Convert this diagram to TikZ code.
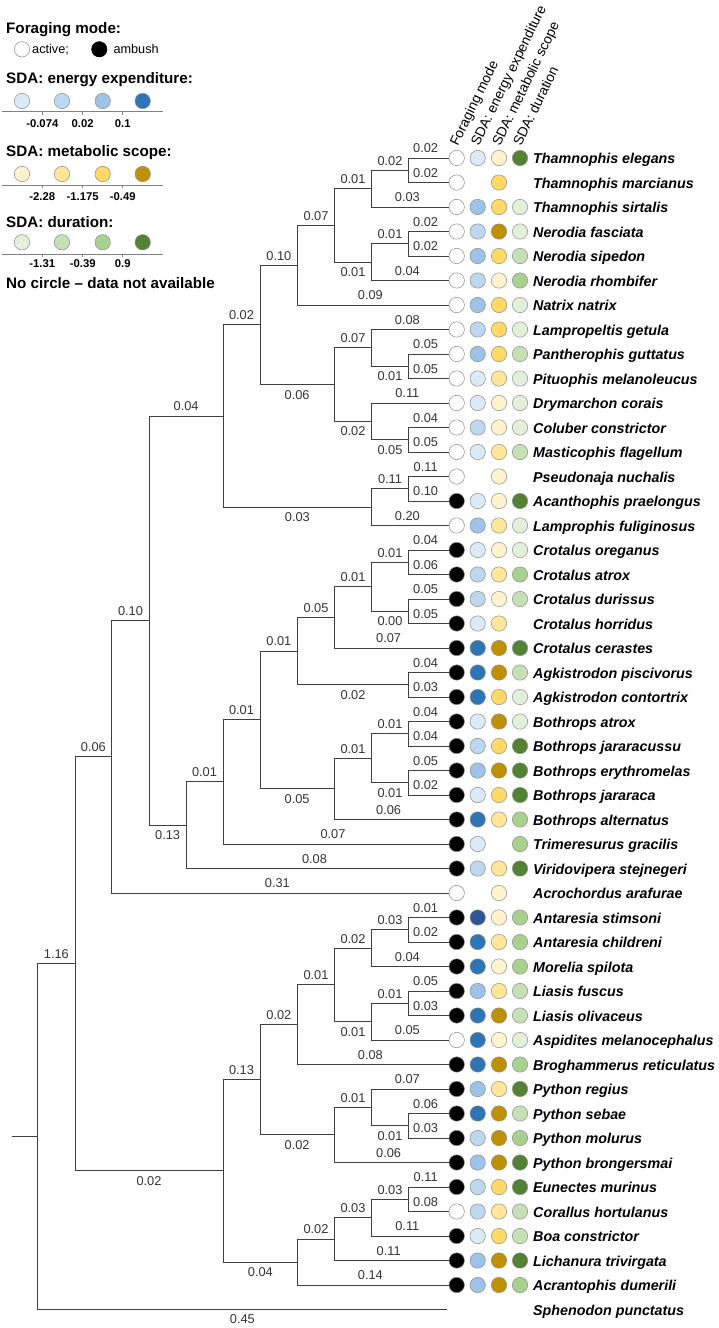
\documentclass[tikz,border=0pt]{standalone}
\usepackage{fontspec}
\setmainfont{Liberation Sans}
\definecolor{ce1}{HTML}{DCE9F6}
\definecolor{ce2}{HTML}{BDD7EE}
\definecolor{ce3}{HTML}{9DC3E6}
\definecolor{ce4}{HTML}{2E75B6}
\definecolor{ce5}{HTML}{2F5597}
\definecolor{cm1}{HTML}{FFF2CC}
\definecolor{cm2}{HTML}{FFE699}
\definecolor{cm3}{HTML}{FFD966}
\definecolor{cm4}{HTML}{BF9000}
\definecolor{cd1}{HTML}{E2F0D9}
\definecolor{cd2}{HTML}{C5E0B4}
\definecolor{cd3}{HTML}{A9D18E}
\definecolor{cd4}{HTML}{548235}
\newcommand\blab{\fontsize{12.8}{13}\selectfont}
\newcommand\taxon[6]{%
  \pgfmathsetmacro\ry{158+(#1-1)*24.5}%
  \coordinate (t#1) at (449,\ry);
  \node[taxname] (name#1) at (533,\ry+5.6) {#2};
  \if\relax\detokenize{#3}\relax\else\node[dot,fill=#3] (fm#1) at (456.7,\ry) {};\fi
  \if\relax\detokenize{#4}\relax\else\node[dot,fill=#4] (ee#1) at (477.7,\ry) {};\fi
  \if\relax\detokenize{#5}\relax\else\node[dot,fill=#5] (ms#1) at (499,\ry) {};\fi
  \if\relax\detokenize{#6}\relax\else\node[dot,fill=#6] (du#1) at (520,\ry) {};\fi
}
\begin{document}
\begin{tikzpicture}[x=1pt,y=-1pt,
  tree/.style={draw=black!75, line width=1pt, line join=miter},
  lu/.style={font=\blab, text=black!80, inner sep=0pt, yshift=9.5pt},
  ld/.style={font=\blab, text=black!80, inner sep=0pt, yshift=-10pt},
  tu/.style={lu, xshift=-3pt},
  dot/.style={circle, minimum size=15.4pt, inner sep=0pt, draw=black!45, line width=0.5pt},
  taxname/.style={anchor=base west, inner sep=0pt, font=\fontsize{14.3}{16}\selectfont\bfseries\itshape},
  title/.style={anchor=base west, inner sep=0pt, font=\fontsize{15.2}{17}\selectfont\bfseries},
  ltxt/.style={anchor=base west, inner sep=0pt, font=\fontsize{12.7}{14}\selectfont},
  ticklab/.style={inner sep=0pt, font=\fontsize{11.3}{13}\selectfont\bfseries},
  axis/.style={draw=black!50, line width=0.7pt},
  header/.style={rotate=64, anchor=base west, inner sep=0pt, font=\fontsize{13.8}{15}\selectfont}]
\useasboundingbox (0,0) rectangle (719,1328);

% ---------- legend ----------
\node[title] (lt1) at (6,33.3) {Foraging mode:};
\node[dot,fill=white] (lfa) at (22,49.3) {};
\node[ltxt] (lfat) at (32,53.6) {active;};
\node[dot,fill=black,draw=black] (lfb) at (99.3,49.3) {};
\node[ltxt] (lfbt) at (113.3,53.6) {ambush};

\node[title] (lt2) at (6,83.3) {SDA: energy expenditure:};
\node[dot,fill=ce1] (le1) at (22,101) {};
\node[dot,fill=ce2] (le2) at (62,101) {};
\node[dot,fill=ce3] (le3) at (102.7,101) {};
\node[dot,fill=ce4] (le4) at (142.7,101) {};
\draw[axis] (1.7,111.7) -- (163.3,111.7);
\foreach \xx in {42.3,82.7,122.7} \draw[axis] (\xx,111.7) -- (\xx,114.7);
\node[ticklab] (lel1) at (42.3,123.3) {-0.074};
\node[ticklab] (lel2) at (82.7,123.3) {0.02};
\node[ticklab] (lel3) at (122.7,123.3) {0.1};

\node[title] (lt3) at (6,156.7) {SDA: metabolic scope:};
\node[dot,fill=cm1] (lm1) at (22,174) {};
\node[dot,fill=cm2] (lm2) at (62,174) {};
\node[dot,fill=cm3] (lm3) at (102.7,174) {};
\node[dot,fill=cm4] (lm4) at (142.7,174) {};
\draw[axis] (1.7,185) -- (163.3,185);
\foreach \xx in {42.3,82.7,122.7} \draw[axis] (\xx,185) -- (\xx,188);
\node[ticklab] (lml1) at (42.3,196.7) {-2.28};
\node[ticklab] (lml2) at (82.7,196.7) {-1.175};
\node[ticklab] (lml3) at (122.7,196.7) {-0.49};

\node[title] (lt4) at (6,227) {SDA: duration:};
\node[dot,fill=cd1] (ld1) at (22,242.3) {};
\node[dot,fill=cd2] (ld2) at (62,242.3) {};
\node[dot,fill=cd3] (ld3) at (102.7,242.3) {};
\node[dot,fill=cd4] (ld4) at (142.7,242.3) {};
\draw[axis] (1.7,254) -- (163.3,254);
\foreach \xx in {42.3,82.7,122.7} \draw[axis] (\xx,254) -- (\xx,257);
\node[ticklab] (ldl1) at (42.3,264) {-1.31};
\node[ticklab] (ldl2) at (82.7,264) {-0.39};
\node[ticklab] (ldl3) at (122.7,264) {0.9};

\node[title] (lt5) at (6,288) {No circle \textendash\ data not available};

% ---------- column headers ----------
\node[header] (h1) at (457.7,147) {Foraging mode};
\node[header] (h2) at (478.7,147) {SDA: energy expenditure};
\node[header] (h3) at (500,147) {SDA: metabolic scope};
\node[header] (h4) at (521,147) {SDA: duration};

% ---------- taxa ----------
\taxon{1}{Thamnophis elegans}{white}{ce1}{cm1}{cd4}
\taxon{2}{Thamnophis marcianus}{white}{}{cm3}{}
\taxon{3}{Thamnophis sirtalis}{white}{ce3}{cm3}{cd1}
\taxon{4}{Nerodia fasciata}{white}{ce2}{cm4}{cd1}
\taxon{5}{Nerodia sipedon}{white}{ce3}{cm3}{cd2}
\taxon{6}{Nerodia rhombifer}{white}{ce2}{cm1}{cd3}
\taxon{7}{Natrix natrix}{white}{ce3}{cm3}{cd1}
\taxon{8}{Lampropeltis getula}{white}{ce2}{cm3}{cd1}
\taxon{9}{Pantherophis guttatus}{white}{ce3}{cm3}{cd2}
\taxon{10}{Pituophis melanoleucus}{white}{ce1}{cm2}{cd1}
\taxon{11}{Drymarchon corais}{white}{ce1}{cm1}{cd1}
\taxon{12}{Coluber constrictor}{white}{ce2}{cm1}{cd1}
\taxon{13}{Masticophis flagellum}{white}{ce1}{cm2}{cd2}
\taxon{14}{Pseudonaja nuchalis}{white}{}{cm1}{}
\taxon{15}{Acanthophis praelongus}{black}{ce1}{cm1}{cd4}
\taxon{16}{Lamprophis fuliginosus}{white}{ce3}{cm2}{cd1}
\taxon{17}{Crotalus oreganus}{black}{ce1}{cm1}{cd1}
\taxon{18}{Crotalus atrox}{black}{ce2}{cm2}{cd3}
\taxon{19}{Crotalus durissus}{black}{ce2}{cm1}{cd2}
\taxon{20}{Crotalus horridus}{black}{ce1}{cm2}{}
\taxon{21}{Crotalus cerastes}{black}{ce4}{cm4}{cd4}
\taxon{22}{Agkistrodon piscivorus}{black}{ce4}{cm4}{cd2}
\taxon{23}{Agkistrodon contortrix}{black}{ce4}{cm3}{cd1}
\taxon{24}{Bothrops atrox}{black}{ce1}{cm4}{cd1}
\taxon{25}{Bothrops jararacussu}{black}{ce2}{cm3}{cd4}
\taxon{26}{Bothrops erythromelas}{black}{ce3}{cm4}{cd4}
\taxon{27}{Bothrops jararaca}{black}{ce1}{cm3}{cd4}
\taxon{28}{Bothrops alternatus}{black}{ce4}{cm2}{cd3}
\taxon{29}{Trimeresurus gracilis}{black}{ce1}{}{cd3}
\taxon{30}{Viridovipera stejnegeri}{black}{ce2}{cm2}{cd4}
\taxon{31}{Acrochordus arafurae}{white}{}{cm1}{}
\taxon{32}{Antaresia stimsoni}{black}{ce5}{cm1}{cd3}
\taxon{33}{Antaresia childreni}{black}{ce4}{cm2}{cd3}
\taxon{34}{Morelia spilota}{black}{ce4}{cm1}{cd3}
\taxon{35}{Liasis fuscus}{black}{ce3}{cm2}{cd2}
\taxon{36}{Liasis olivaceus}{black}{ce4}{cm4}{cd2}
\taxon{37}{Aspidites melanocephalus}{white}{ce4}{cm1}{cd1}
\taxon{38}{Broghammerus reticulatus}{black}{ce4}{cm4}{cd3}
\taxon{39}{Python regius}{black}{ce3}{cm2}{cd4}
\taxon{40}{Python sebae}{black}{ce4}{cm4}{cd2}
\taxon{41}{Python molurus}{black}{ce2}{cm4}{cd3}
\taxon{42}{Python brongersmai}{black}{ce3}{cm4}{cd4}
\taxon{43}{Eunectes murinus}{black}{ce2}{cm3}{cd4}
\taxon{44}{Corallus hortulanus}{white}{ce2}{cm2}{cd2}
\taxon{45}{Boa constrictor}{black}{ce1}{cm3}{cd2}
\taxon{46}{Lichanura trivirgata}{black}{ce3}{cm4}{cd4}
\taxon{47}{Acrantophis dumerili}{black}{ce3}{cm4}{cd3}
\taxon{48}{Sphenodon punctatus}{}{}{}{}
\coordinate (t48) at (447,1309.5);

% ---------- internal nodes ----------
\coordinate (nA) at (408.3,170.25);
\coordinate (nB) at (371.7,188.63);
\coordinate (nC) at (408.3,243.75);
\coordinate (nD) at (371.7,262.13);
\coordinate (nE) at (334.3,225.38);
\coordinate (nF) at (297.7,265.19);
\coordinate (nG) at (408.3,366.25);
\coordinate (nH) at (371.7,347.88);
\coordinate (nI) at (408.3,439.75);
\coordinate (nJ) at (371.7,421.38);
\coordinate (nK) at (334.3,384.63);
\coordinate (nL) at (260,324.91);
\coordinate (nM) at (408.3,488.75);
\coordinate (nN) at (371.7,507.13);
\coordinate (nO) at (223,416.02);
\coordinate (nP) at (408.3,562.25);
\coordinate (nQ) at (408.3,611.25);
\coordinate (nR) at (371.7,586.75);
\coordinate (nS) at (334.3,617.38);
\coordinate (nT) at (408.3,684.75);
\coordinate (nU) at (297.7,651.06);
\coordinate (nV) at (408.3,733.75);
\coordinate (nW) at (408.3,782.75);
\coordinate (nX) at (371.7,758.25);
\coordinate (nY) at (334.3,788.88);
\coordinate (nZ) at (260,719.97);
\coordinate (nAA) at (223,781.98);
\coordinate (nAB) at (186,825.24);
\coordinate (nAC) at (149.3,620.63);
\coordinate (nAD) at (111.7,756.82);
\coordinate (nAE) at (408.3,929.75);
\coordinate (nAF) at (371.7,948.13);
\coordinate (nAG) at (408.3,1003.25);
\coordinate (nAH) at (371.7,1021.63);
\coordinate (nAI) at (334.3,984.88);
\coordinate (nAJ) at (297.7,1024.69);
\coordinate (nAK) at (408.3,1125.75);
\coordinate (nAL) at (371.7,1107.38);
\coordinate (nAM) at (334.3,1134.94);
\coordinate (nAN) at (260,1079.81);
\coordinate (nAO) at (408.3,1199.25);
\coordinate (nAP) at (371.7,1217.63);
\coordinate (nAQ) at (334.3,1239.06);
\coordinate (nAR) at (297.7,1262.03);
\coordinate (nAS) at (223,1170.92);
\coordinate (nAT) at (75,963.87);
\coordinate (nRoot) at (37.7,1136.69);
\coordinate (stub) at (12.3,1136.69);

% ---------- branches ----------
\draw[tree] (t1) -- node[tu]{0.02} (nA|-t1) -- (nA|-t2) -- node[tu]{0.02} (t2);
\draw[tree] (nA) -- node[lu]{0.02} (nB|-nA) -- (nB|-t3) -- node[tu]{0.03} (t3);
\draw[tree] (t4) -- node[tu]{0.02} (nC|-t4) -- (nC|-t5) -- node[tu]{0.02} (t5);
\draw[tree] (nC) -- node[lu]{0.01} (nD|-nC) -- (nD|-t6) -- node[tu]{0.04} (t6);
\draw[tree] (nB) -- node[lu]{0.01} (nE|-nB) -- (nE|-nD) -- node[ld]{0.01} (nD);
\draw[tree] (nE) -- node[lu]{0.07} (nF|-nE) -- (nF|-t7) -- node[tu]{0.09} (t7);
\draw[tree] (t9) -- node[tu]{0.05} (nG|-t9) -- (nG|-t10) -- node[tu]{0.05} (t10);
\draw[tree] (t8) -- node[tu]{0.08} (nH|-t8) -- (nH|-nG) -- node[ld]{0.01} (nG);
\draw[tree] (t12) -- node[tu]{0.04} (nI|-t12) -- (nI|-t13) -- node[tu]{0.05} (t13);
\draw[tree] (t11) -- node[tu]{0.11} (nJ|-t11) -- (nJ|-nI) -- node[ld]{0.05} (nI);
\draw[tree] (nH) -- node[lu]{0.07} (nK|-nH) -- (nK|-nJ) -- node[ld]{0.02} (nJ);
\draw[tree] (nF) -- node[lu]{0.10} (nL|-nF) -- (nL|-nK) -- node[ld]{0.06} (nK);
\draw[tree] (t14) -- node[tu]{0.11} (nM|-t14) -- (nM|-t15) -- node[tu]{0.10} (t15);
\draw[tree] (nM) -- node[lu]{0.11} (nN|-nM) -- (nN|-t16) -- node[tu]{0.20} (t16);
\draw[tree] (nL) -- node[lu]{0.02} (nO|-nL) -- (nO|-nN) -- node[ld]{0.03} (nN);
\draw[tree] (t17) -- node[tu]{0.04} (nP|-t17) -- (nP|-t18) -- node[tu]{0.06} (t18);
\draw[tree] (t19) -- node[tu]{0.05} (nQ|-t19) -- (nQ|-t20) -- node[tu]{0.05} (t20);
\draw[tree] (nP) -- node[lu]{0.01} (nR|-nP) -- (nR|-nQ) -- node[ld]{0.00} (nQ);
\draw[tree] (nR) -- node[lu]{0.01} (nS|-nR) -- (nS|-t21) -- node[tu]{0.07} (t21);
\draw[tree] (t22) -- node[tu]{0.04} (nT|-t22) -- (nT|-t23) -- node[tu]{0.03} (t23);
\draw[tree] (nS) -- node[lu]{0.05} (nU|-nS) -- (nU|-nT) -- node[ld]{0.02} (nT);
\draw[tree] (t24) -- node[tu]{0.04} (nV|-t24) -- (nV|-t25) -- node[tu]{0.04} (t25);
\draw[tree] (t26) -- node[tu]{0.05} (nW|-t26) -- (nW|-t27) -- node[tu]{0.02} (t27);
\draw[tree] (nV) -- node[lu]{0.01} (nX|-nV) -- (nX|-nW) -- node[ld]{0.01} (nW);
\draw[tree] (nX) -- node[lu]{0.01} (nY|-nX) -- (nY|-t28) -- node[tu]{0.06} (t28);
\draw[tree] (nU) -- node[lu]{0.01} (nZ|-nU) -- (nZ|-nY) -- node[ld]{0.05} (nY);
\draw[tree] (nZ) -- node[lu]{0.01} (nAA|-nZ) -- (nAA|-t29) -- node[tu]{0.07} (t29);
\draw[tree] (nAA) -- node[lu]{0.01} (nAB|-nAA) -- (nAB|-t30) -- node[tu]{0.08} (t30);
\draw[tree] (nO) -- node[lu]{0.04} (nAC|-nO) -- (nAC|-nAB) -- node[ld]{0.13} (nAB);
\draw[tree] (nAC) -- node[lu]{0.10} (nAD|-nAC) -- (nAD|-t31) -- node[tu]{0.31} (t31);
\draw[tree] (t32) -- node[tu]{0.01} (nAE|-t32) -- (nAE|-t33) -- node[tu]{0.02} (t33);
\draw[tree] (nAE) -- node[lu]{0.03} (nAF|-nAE) -- (nAF|-t34) -- node[tu]{0.04} (t34);
\draw[tree] (t35) -- node[tu]{0.05} (nAG|-t35) -- (nAG|-t36) -- node[tu]{0.03} (t36);
\draw[tree] (nAG) -- node[lu]{0.01} (nAH|-nAG) -- (nAH|-t37) -- node[tu]{0.05} (t37);
\draw[tree] (nAF) -- node[lu]{0.02} (nAI|-nAF) -- (nAI|-nAH) -- node[ld]{0.01} (nAH);
\draw[tree] (nAI) -- node[lu]{0.01} (nAJ|-nAI) -- (nAJ|-t38) -- node[tu]{0.08} (t38);
\draw[tree] (t40) -- node[tu]{0.06} (nAK|-t40) -- (nAK|-t41) -- node[tu]{0.03} (t41);
\draw[tree] (t39) -- node[tu]{0.07} (nAL|-t39) -- (nAL|-nAK) -- node[ld]{0.01} (nAK);
\draw[tree] (nAL) -- node[lu]{0.01} (nAM|-nAL) -- (nAM|-t42) -- node[tu]{0.06} (t42);
\draw[tree] (nAJ) -- node[lu]{0.02} (nAN|-nAJ) -- (nAN|-nAM) -- node[ld]{0.02} (nAM);
\draw[tree] (t43) -- node[tu]{0.11} (nAO|-t43) -- (nAO|-t44) -- node[tu]{0.08} (t44);
\draw[tree] (nAO) -- node[lu]{0.03} (nAP|-nAO) -- (nAP|-t45) -- node[tu]{0.11} (t45);
\draw[tree] (nAP) -- node[lu]{0.03} (nAQ|-nAP) -- (nAQ|-t46) -- node[tu]{0.11} (t46);
\draw[tree] (nAQ) -- node[lu]{0.02} (nAR|-nAQ) -- (nAR|-t47) -- node[tu]{0.14} (t47);
\draw[tree] (nAN) -- node[lu]{0.13} (nAS|-nAN) -- (nAS|-nAR) -- node[ld]{0.04} (nAR);
\draw[tree] (nAD) -- node[lu]{0.06} (nAT|-nAD) -- (nAT|-nAS) -- node[ld]{0.02} (nAS);
\draw[tree] (nAT) -- node[lu]{1.16} (nRoot|-nAT) -- (nRoot|-t48) -- node[ld]{0.45} (t48);
\draw[tree] (stub) -- (nRoot);
\end{tikzpicture}
\end{document}
